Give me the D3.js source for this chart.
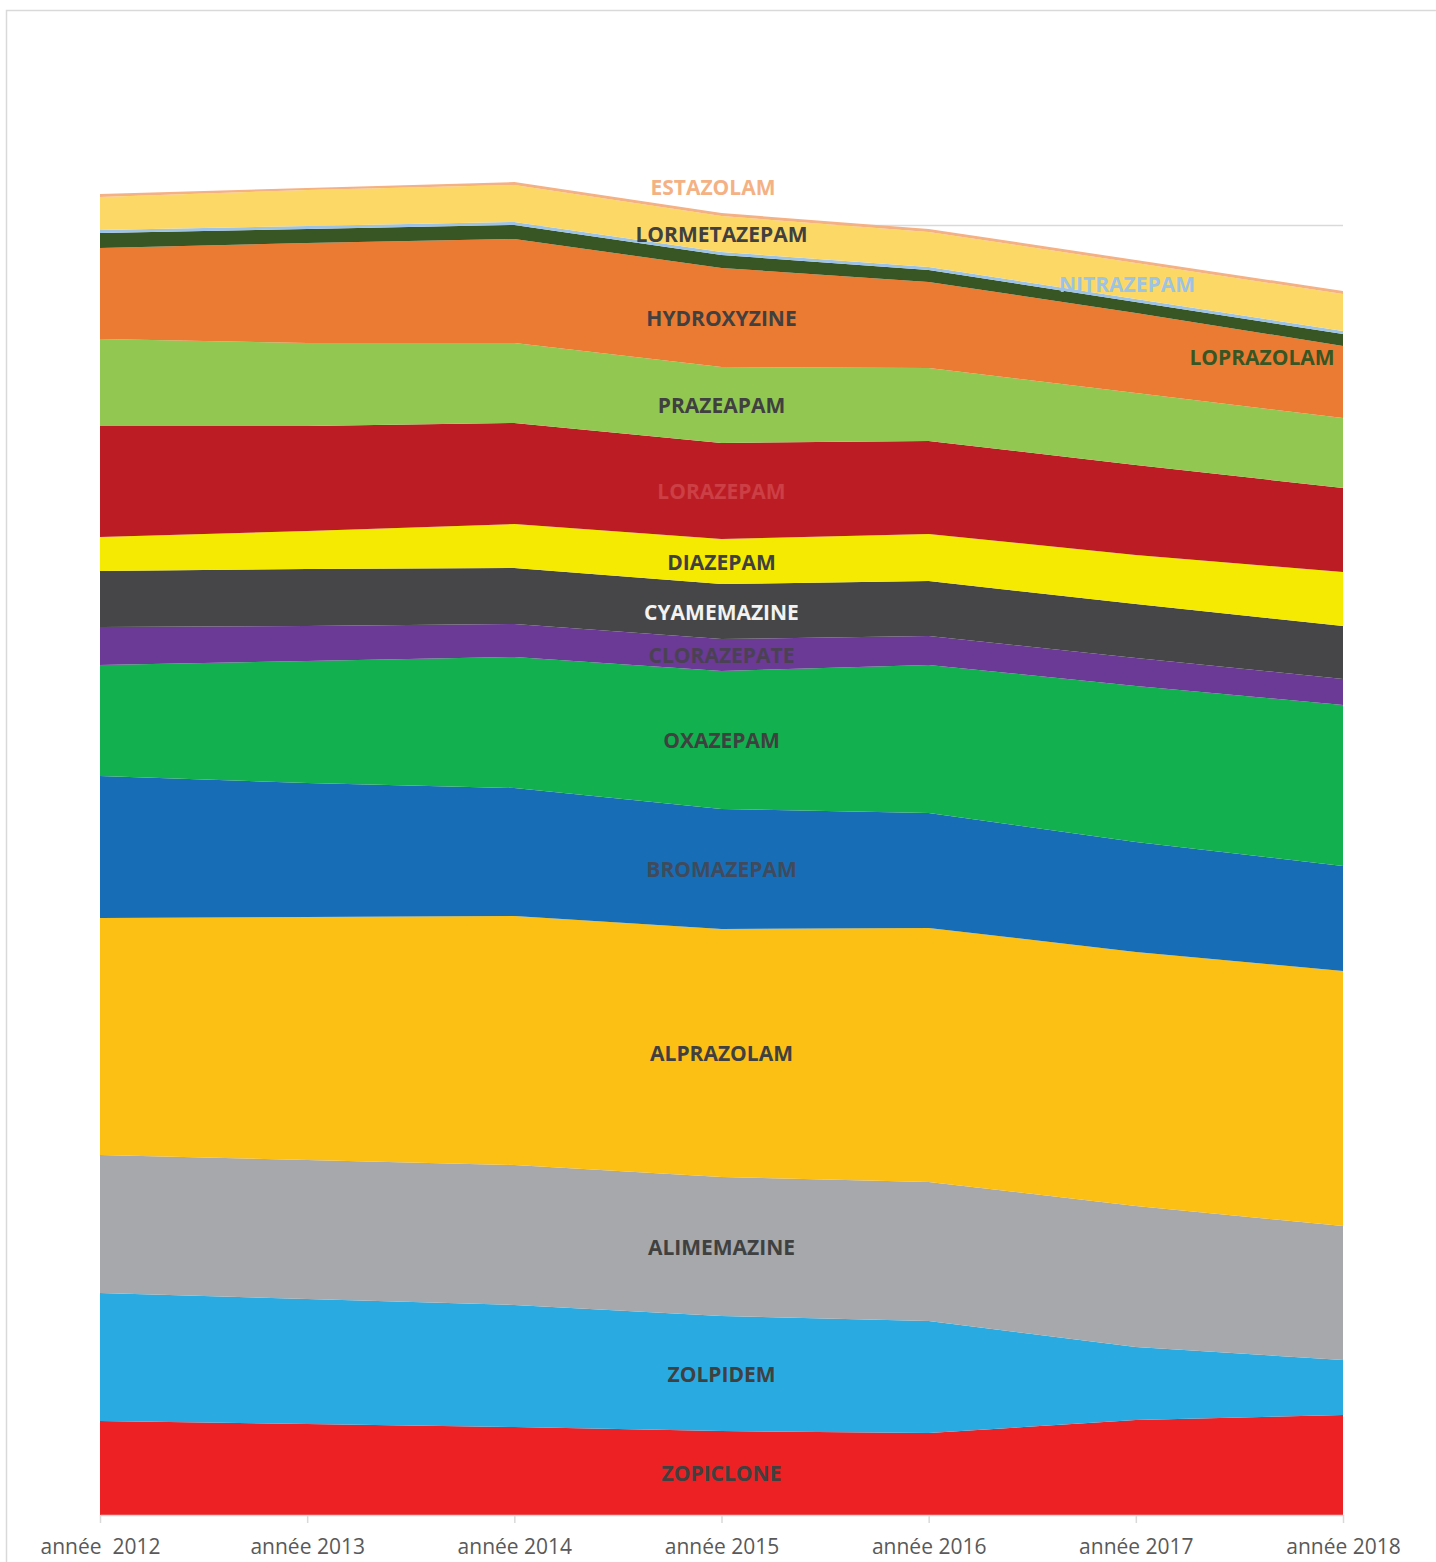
<!DOCTYPE html>
<html>
<head>
<meta charset="utf-8">
<script src="https://cdn.jsdelivr.net/npm/d3@7/dist/d3.min.js"></script>
<style>
  body { margin: 0; background: #fff; }
  .chart text { font-family: 'Open Sans', sans-serif; }
</style>
</head>
<body>
<div class="chart"></div>
<script>
// years on the x axis (first label has a double space in the source)
var years = ['année  2012', 'année 2013', 'année 2014', 'année 2015', 'année 2016', 'année 2017', 'année 2018'];

// stacked from bottom to top
var zopiclone    = [94, 91, 88, 84, 82, 95, 100];
var zolpidem     = [128, 125, 122, 115, 112, 73, 55];
var alimemazine  = [138, 139, 140, 139, 139, 141, 134];
var alprazolam   = [237, 243, 249, 248, 254, 254, 255];
var bromazepam   = [142, 134, 128, 120, 115, 110, 105];
var oxazepam     = [111, 122, 131, 138, 148, 156, 161];
var clorazepate  = [38, 35, 33, 32, 29, 28, 26];
var cyamemazine  = [56, 57, 56, 55, 55, 54, 53];
var diazepam     = [34, 38, 44, 45, 47, 49, 54];
var lorazepam    = [111, 105, 101, 96, 93, 90, 84];
var prazeapam    = [87, 83, 80, 76, 73, 72, 70];
var hydroxyzine  = [91, 100, 104, 99, 86, 80, 72];
var loprazolam   = [15, 14, 14, 13, 12, 11, 12];
var nitrazepam   = [3, 3, 3, 3, 3, 3, 3];
var lormetazepam = [33, 36, 37, 36, 35, 36, 37];
var estazolam    = [3, 2, 3, 3, 3, 3, 3];

var names = ['ZOPICLONE', 'ZOLPIDEM', 'ALIMEMAZINE', 'ALPRAZOLAM', 'BROMAZEPAM', 'OXAZEPAM',
  'CLORAZEPATE', 'CYAMEMAZINE', 'DIAZEPAM', 'LORAZEPAM', 'PRAZEAPAM', 'HYDROXYZINE',
  'LOPRAZOLAM', 'NITRAZEPAM', 'LORMETAZEPAM', 'ESTAZOLAM'];
var values = [zopiclone, zolpidem, alimemazine, alprazolam, bromazepam, oxazepam,
  clorazepate, cyamemazine, diazepam, lorazepam, prazeapam, hydroxyzine,
  loprazolam, nitrazepam, lormetazepam, estazolam];

// y gridline value (only one major gridline shows in the picture)
var gridTicks = [1290];

var fills = ['#ED2024', '#29ABE2', '#A6A8AB', '#FCBF14', '#176EB6', '#13B04F',
  '#6A3A96', '#464648', '#F5EA02', '#BC1D24', '#92C851', '#EB7B32',
  '#375623', '#9DC3E6', '#FCD966', '#F4B183'];
var labelColors = ['#404040', '#404040', '#404040', '#404040', '#3f4b5c', '#404040',
  '#4a4152', '#F2F2F2', '#404040', '#CC3F45', '#404040', '#404040',
  '#375623', '#9DC3E6', '#404040', '#F4B183'];

var margin = { top: 225, right: 93, bottom: 47, left: 100 };
var fullWidth = 1436;
var fullHeight = 1562;
var width = fullWidth - margin.left - margin.right;
var height = fullHeight - margin.top - margin.bottom;

var svg0 = d3.select('.chart')
  .append('svg')
  .attr('width', fullWidth)
  .attr('height', fullHeight);

// outer frame of the chart area
svg0.append('rect')
  .attr('x', 6.5)
  .attr('y', 10.5)
  .attr('width', 1460)
  .attr('height', 1600)
  .attr('fill', 'none')
  .attr('stroke', '#D9D9D9')
  .attr('stroke-width', 1.5);

var svg = svg0.append('g')
  .attr('transform', 'translate(' + margin.left + ',' + margin.top + ')');

var xScale = d3.scalePoint()
  .domain(years)
  .range([0, width]);

var yScale = d3.scaleLinear()
  .domain([0, gridTicks[0]])
  .range([height, 0]);

// gridline behind the areas
var grid = svg.append('g')
  .call(d3.axisLeft(yScale).tickValues(gridTicks).tickSize(-width).tickFormat(''));
grid.select('.domain').remove();
grid.selectAll('line').attr('stroke', '#D9D9D9').attr('stroke-width', 1.5);

var rows = years.map(function(y, i) {
  var r = { year: y };
  names.forEach(function(n, k) { r[n] = values[k][i]; });
  return r;
});

var stacked = d3.stack().keys(names)(rows);

var area = d3.area()
  .x(d => xScale(d.data.year))
  .y0(d => yScale(d[0]))
  .y1(d => yScale(d[1]));

svg.selectAll('path.layer')
  .data(stacked)
  .enter()
  .append('path')
  .attr('class', 'layer')
  .attr('d', area)
  .attr('fill', (d, i) => fills[i]);

// x axis
var xAxis = d3.axisBottom(xScale)
  .tickSizeInner(8)
  .tickSizeOuter(0)
  .tickPadding(16);

var gx = svg.append('g')
  .attr('transform', `translate(0, ${height})`)
  .call(xAxis);
gx.select('.domain').attr('stroke', '#D9D9D9').attr('stroke-width', 1.5);
gx.selectAll('line').attr('stroke', '#D9D9D9').attr('stroke-width', 1.5);
gx.selectAll('text')
  .style('font-size', '21px')
  .style('fill', '#595959')
  .style('white-space', 'pre');

// data labels sit in the middle of each band at the 2015 point,
// three of them were dragged elsewhere in the original
var labelIndex = 3;
var moved = {
  ESTAZOLAM: { x: 713, y: 187 },
  NITRAZEPAM: { x: 1127, y: 284 },
  LOPRAZOLAM: { x: 1262, y: 357 }
};

svg.selectAll('text.label')
  .data(stacked)
  .enter()
  .append('text')
  .attr('class', 'label')
  .attr('x', d => moved[d.key] ? moved[d.key].x - margin.left : xScale(years[labelIndex]))
  .attr('y', d => moved[d.key] ? moved[d.key].y - margin.top
    : yScale((d[labelIndex][0] + d[labelIndex][1]) / 2))
  .attr('dy', '0.4em')
  .style('text-anchor', 'middle')
  .style('font-size', '21px')
  .style('font-weight', 'bold')
  .style('fill', (d, i) => labelColors[i])
  .text(d => d.key);
</script>
</body>
</html>
